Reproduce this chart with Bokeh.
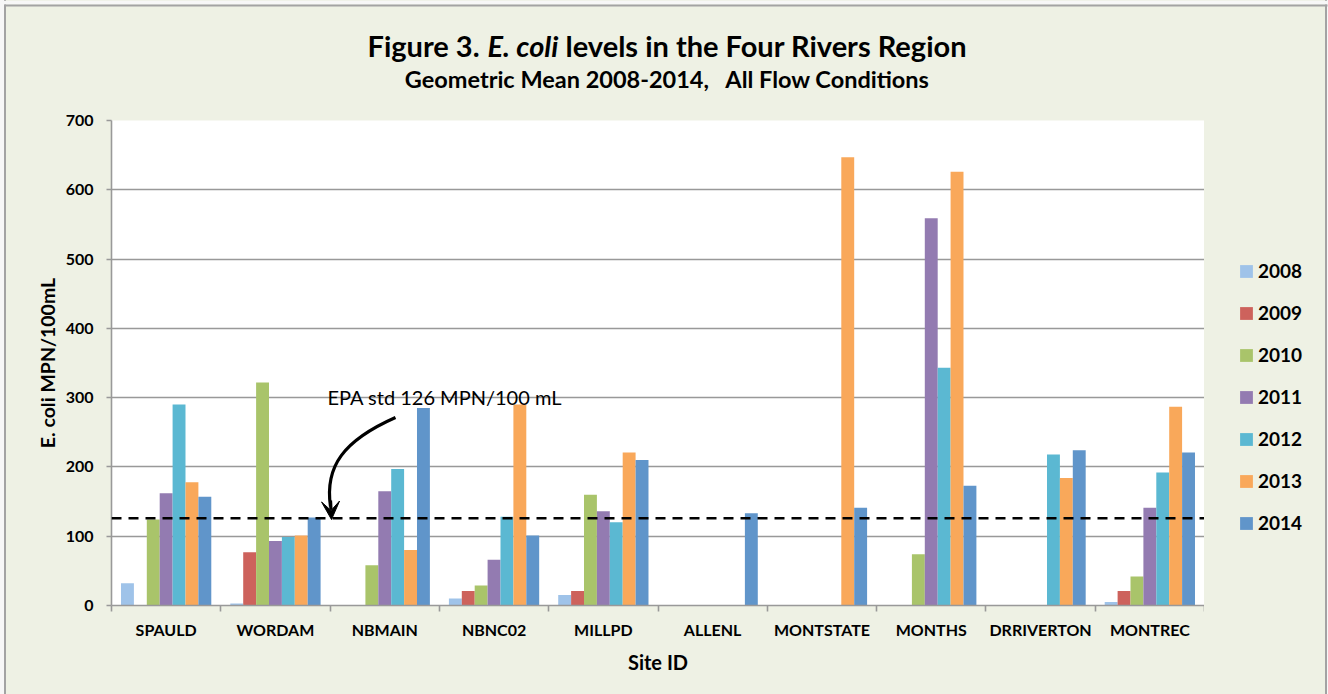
from bokeh.plotting import figure
from bokeh.layouts import column, row
from bokeh.models import (Range1d, FixedTicker, Label, Span, Arrow, VeeHead,
                          Legend, LegendItem, ColumnDataSource)
from bokeh.embed import file_html
from bokeh.resources import INLINE

# ---------------- data ----------------
sites = ["SPAULD", "WORDAM", "NBMAIN", "NBNC02", "MILLPD", "ALLENL",
         "MONTSTATE", "MONTHS", "DRRIVERTON", "MONTREC"]
years = ["2008", "2009", "2010", "2011", "2012", "2013", "2014"]
v2008 = [32, 3, 0, 10, 15, 0, 0, 0, 0, 5]
v2009 = [0, 77, 0, 21, 21, 0, 0, 0, 0, 21]
v2010 = [124, 322, 58, 29, 160, 0, 0, 74, 0, 42]
v2011 = [162, 93, 165, 66, 136, 0, 0, 559, 0, 141]
v2012 = [290, 99, 197, 128, 120, 0, 0, 343, 218, 192]
v2013 = [178, 101, 80, 290, 221, 0, 647, 626, 184, 287]
v2014 = [157, 127, 285, 101, 210, 133, 141, 173, 224, 221]
series = [v2008, v2009, v2010, v2011, v2012, v2013, v2014]
y_ticks = [0, 100, 200, 300, 400, 500, 600, 700]
epa_std = 126
epa_text = "EPA std 126 MPN/100 mL"
title_a, title_b, title_c = "Figure 3.", "E. coli", "levels in the Four Rivers Region"
subtitle = "Geometric Mean 2008-2014,\u00a0\u00a0 All Flow Conditions"

colors = ["#9FC3E9", "#CD625C", "#A9C46A", "#937BB1", "#5BB8D2", "#F9A85A", "#6095CA"]

# ---------------- geometry ----------------
W, H = 1328, 694
HEAD_H = 110            # header strip height
LEG_W = 124             # legend strip width
MAIN_W = W - LEG_W
MAIN_H = H - HEAD_H
FL, FR, FT, FB = 111, 1204, 120, 605   # frame edges in page px
YMAX = 700.0
NCAT = len(sites)
BG = "#EEF1E4"
BORDER = "#A3A3A3"
OUT = "#F7F7F7"
FONT = "Lato"


def dx(px):
    return (px - FL) / (FR - FL) * NCAT


def dy(py):
    return (FB - py) / (FB - FT) * YMAX


# ---------------- header ----------------
head = figure(width=W, height=HEAD_H, output_backend="svg", toolbar_location=None,
              x_range=Range1d(0, W), y_range=Range1d(HEAD_H, 0),
              min_border=0, x_axis_location=None, y_axis_location=None)
head.grid.visible = False
head.outline_line_color = None
head.background_fill_alpha = 0
head.border_fill_alpha = 0
head.quad(left=[0], right=[W], top=[0], bottom=[4], fill_color=OUT, line_color=None)
head.segment(x0=[4], y0=[5], x1=[1327], y1=[5], line_color=BORDER, line_width=2)
tsize = 29
w_a, w_b, w_c, gap = 112.0, 70.0, 400.0, 8.0
x_a = 666 - (w_a + w_b + w_c + 2 * gap) / 2
tkw = dict(y=45, text_font=FONT, text_font_size=f"{tsize}px", text_baseline="middle",
           text_color="black", text_align="left")
head.add_layout(Label(x=x_a, text=title_a, text_font_style="bold", **tkw))
head.add_layout(Label(x=x_a + w_a + gap, text=title_b, text_font_style="bold italic", **tkw))
head.add_layout(Label(x=x_a + w_a + w_b + 2 * gap, text=title_c, text_font_style="bold", **tkw))
head.add_layout(Label(x=667, y=78, text=subtitle, text_font=FONT,
                      text_font_style="bold", text_font_size="23.5px",
                      text_align="center", text_baseline="middle", text_color="black"))

# ---------------- main chart ----------------
p = figure(width=MAIN_W, height=MAIN_H, output_backend="svg", toolbar_location=None,
           x_range=Range1d(0, NCAT), y_range=Range1d(0, YMAX),
           min_border_left=FL, min_border_right=0,
           min_border_top=FT - HEAD_H, min_border_bottom=H - FB)
p.border_fill_alpha = 0
p.background_fill_color = "white"
p.outline_line_color = None

bar_w = 0.118
for j, (yr, vals) in enumerate(zip(years, series)):
    xs = [i + 0.5 + (j - 3) * bar_w for i in range(NCAT)]
    src = ColumnDataSource(dict(x=xs, top=vals))
    p.vbar(x="x", top="top", width=bar_w, bottom=0, source=src,
           fill_color=colors[j], line_color=None)

p.xgrid.grid_line_color = None
p.ygrid.ticker = FixedTicker(ticks=y_ticks)
p.ygrid.grid_line_color = "#999999"
p.ygrid.grid_line_width = 1.6

ya = p.yaxis[0]
ya.ticker = FixedTicker(ticks=y_ticks)
ya.axis_line_color = "#999999"
ya.axis_line_width = 1.6
ya.major_tick_line_color = "#999999"
ya.major_tick_line_width = 1.6
ya.major_tick_out = 5
ya.major_tick_in = 0
ya.minor_tick_line_color = None
ya.major_label_standoff = 13
ya.major_label_text_font = FONT
ya.major_label_text_font_style = "bold"
ya.major_label_text_font_size = "16px"
ya.major_label_text_color = "black"
ya.axis_label = "E. coli MPN/100mL"
ya.axis_label_text_font = FONT
ya.axis_label_text_font_style = "bold"
ya.axis_label_text_font_size = "19.5px"
ya.axis_label_text_color = "black"
ya.axis_label_standoff = 4

xa = p.xaxis[0]
xa.ticker = FixedTicker(ticks=[i + 0.5 for i in range(NCAT)],
                        minor_ticks=list(range(NCAT + 1)))
xa.major_label_overrides = {i + 0.5: s for i, s in enumerate(sites)}
xa.axis_line_color = "#999999"
xa.axis_line_width = 1.6
xa.major_tick_line_color = None
xa.major_tick_out = 0
xa.major_tick_in = 0
xa.minor_tick_line_color = "#999999"
xa.minor_tick_line_width = 1.6
xa.minor_tick_out = 6
xa.minor_tick_in = 0
xa.major_label_standoff = 8
xa.major_label_text_font = FONT
xa.major_label_text_font_style = "bold"
xa.major_label_text_font_size = "16px"
xa.major_label_text_color = "black"
xa.axis_label = "Site ID"
xa.axis_label_text_font = FONT
xa.axis_label_text_font_style = "bold"
xa.axis_label_text_font_size = "20px"
xa.axis_label_text_color = "black"
xa.axis_label_standoff = 8

p.add_layout(Span(location=epa_std, dimension="width", line_color="black",
                  line_width=2.6, line_dash="10 7"))
p.add_layout(Label(x=dx(327), y=dy(396), text=epa_text, text_font=FONT,
                   text_font_size="20px", text_baseline="middle",
                   text_color="black"))
p.bezier(x0=[dx(395)], y0=[dy(417)], x1=[dx(330)], y1=[dy(506)],
         cx0=[dx(343)], cy0=[dy(440)], cx1=[dx(324)], cy1=[dy(466)],
         line_color="black", line_width=3.2)
p.add_layout(Arrow(x_start=dx(330), y_start=dy(500), x_end=dx(331), y_end=dy(519),
                   line_color="black", line_width=3.2,
                   end=VeeHead(size=18, fill_color="black", line_color="black")))

# ---------------- legend strip ----------------
leg = figure(width=LEG_W, height=MAIN_H, output_backend="svg", toolbar_location=None,
             x_range=Range1d(0, 1), y_range=Range1d(0, 1),
             min_border_left=0, min_border_right=0,
             min_border_top=FT - HEAD_H, min_border_bottom=H - FB,
             x_axis_location=None, y_axis_location=None)
leg.grid.visible = False
leg.outline_line_color = None
leg.background_fill_alpha = 0
leg.border_fill_alpha = 0
items = []
for j, yr in enumerate(years):
    r = leg.vbar(x=[-100], top=[0], width=1, fill_color=colors[j], line_color=None)
    items.append(LegendItem(label=yr, renderers=[r]))
legend = Legend(items=items, location=(34, 71), orientation="vertical",
                glyph_width=16, glyph_height=16, label_height=21,
                label_standoff=4, spacing=19, padding=0, margin=0,
                label_text_font=FONT, label_text_font_style="bold",
                label_text_font_size="19px", label_text_color="black",
                border_line_color=None, background_fill_alpha=0)
leg.add_layout(legend)

page_bg = ("linear-gradient(to right, "
           f"{OUT} 0px, {OUT} 4px, {BORDER} 4px, {BORDER} 6px, "
           f"{BG} 6px, {BG} 1325px, {BORDER} 1325px, {BORDER} 1327px, "
           f"{OUT} 1327px, {OUT} 1328px)")
layout = column(head, row(p, leg, spacing=0), spacing=0,
                styles={"background": page_bg})

open("out.html", "w").write(file_html(layout, INLINE))
